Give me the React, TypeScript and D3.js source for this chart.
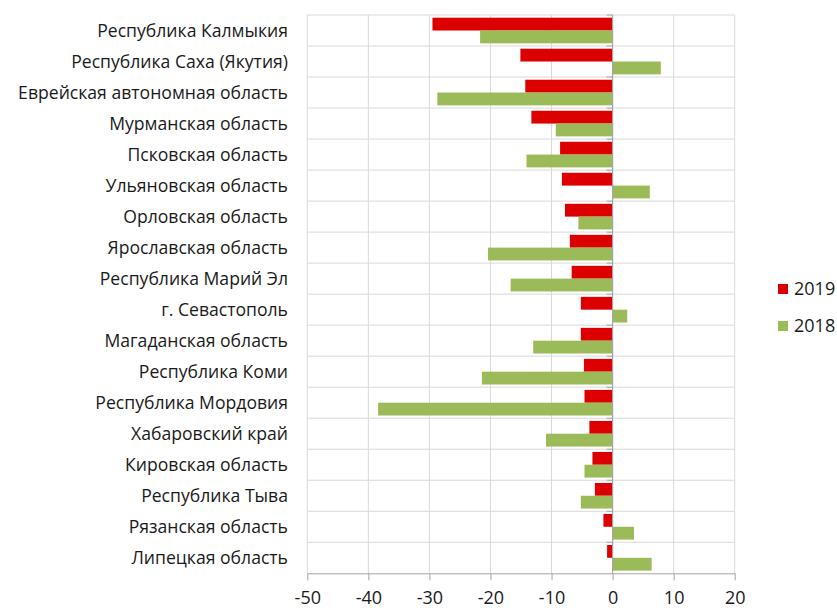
import * as d3 from 'd3'
import { useEffect, useRef } from 'react'

const regions = [
  'Республика Калмыкия',
  'Республика Саха (Якутия)',
  'Еврейская автономная область',
  'Мурманская область',
  'Псковская область',
  'Ульяновская область',
  'Орловская область',
  'Ярославская область',
  'Республика Марий Эл',
  'г. Севастополь',
  'Магаданская область',
  'Республика Коми',
  'Республика Мордовия',
  'Хабаровский край',
  'Кировская область',
  'Республика Тыва',
  'Рязанская область',
  'Липецкая область',
]

const values2019 = [-29.5, -15.1, -14.3, -13.3, -8.6, -8.3, -7.8, -7.0, -6.7, -5.2, -5.2, -4.7, -4.6, -3.8, -3.3, -2.9, -1.5, -0.9]
const values2018 = [-21.7, 7.9, -28.7, -9.3, -14.1, 6.1, -5.6, -20.4, -16.7, 2.4, -13.0, -21.4, -38.4, -10.9, -4.6, -5.2, 3.5, 6.4]

const seriesNames = ['2019', '2018']
const seriesColors = ['#dc0000', '#9bbb59']
const xTicks = [-50, -40, -30, -20, -10, 0, 10, 20]

const W = 837
const H = 608
const FONT = '"Open Sans", "Liberation Sans", sans-serif'

export default function App() {
  const svgRef = useRef(null) as any

  useEffect(() => {
    const svg = d3.select(svgRef.current)
    svg.selectAll('*').remove()

    const left = 307.3
    const right = 734.7
    const top = 15
    const bottom = 573.3

    const x = d3.scaleLinear().domain([-50, 20]).range([left, right])
    const y = d3.scaleBand().domain(regions).range([top, bottom]).paddingInner(0).paddingOuter(0)
    const inner = d3.scaleBand().domain(seriesNames).range([0, y.bandwidth()]).paddingInner(0).paddingOuter(0.21)

    // grid
    const grid = svg.append('g')
    grid.selectAll('line.v')
      .data(xTicks)
      .enter().append('line')
      .attr('x1', d => x(d)).attr('x2', d => x(d))
      .attr('y1', top).attr('y2', bottom)
      .attr('stroke', '#d9d9d9').attr('stroke-width', 1)
    const hLines = regions.map(r => y(r) as number)
    grid.selectAll('line.h')
      .data(hLines)
      .enter().append('line')
      .attr('x1', left).attr('x2', right)
      .attr('y1', d => d).attr('y2', d => d)
      .attr('stroke', '#d9d9d9').attr('stroke-width', 1)

    const rows = regions.map((r, i) => ({ r, vals: [values2019[i], values2018[i]] }))

    const g = svg.append('g')
    rows.forEach(row => {
      row.vals.forEach((v, k) => {
        g.append('rect')
          .attr('x', x(Math.min(0, v)))
          .attr('width', Math.abs(x(v) - x(0)))
          .attr('y', (y(row.r) as number) + (inner(seriesNames[k]) as number))
          .attr('height', inner.bandwidth())
          .attr('fill', seriesColors[k])
      })
    })

    // zero axis with ticks
    svg.append('line')
      .attr('x1', x(0)).attr('x2', x(0))
      .attr('y1', top).attr('y2', bottom)
      .attr('stroke', '#a6a6a6').attr('stroke-width', 1.2)
    svg.append('g').selectAll('line')
      .data(hLines)
      .enter().append('line')
      .attr('x1', x(0) - 6).attr('x2', x(0))
      .attr('y1', d => d).attr('y2', d => d)
      .attr('stroke', '#a6a6a6')

    // bottom axis
    const xAxis = d3.axisBottom(x)
      .tickValues(xTicks)
      .tickFormat(d => String(d))
      .tickSize(7).tickSizeOuter(0).tickPadding(11)
    const ax = svg.append('g')
      .attr('transform', `translate(0,${bottom})`)
      .call(xAxis)
    ax.select('.domain').attr('stroke', '#a6a6a6')
    ax.selectAll('line').attr('stroke', '#a6a6a6')
    ax.selectAll('text')
      .attr('fill', '#1a1a1a')
      .style('font-family', FONT)
      .style('font-size', '18px')

    // category labels
    svg.append('g').selectAll('text')
      .data(regions)
      .enter().append('text')
      .attr('x', 288)
      .attr('y', d => (y(d) as number) + y.bandwidth() / 2)
      .attr('dy', '0.35em')
      .attr('text-anchor', 'end')
      .attr('fill', '#1a1a1a')
      .style('font-family', FONT)
      .style('font-size', '17.6px')
      .text(d => d)

    // legend
    const leg = svg.append('g')
    seriesNames.forEach((s, i) => {
      leg.append('rect')
        .attr('x', 778).attr('y', 284 + i * 37)
        .attr('width', 10).attr('height', 10)
        .attr('fill', seriesColors[i])
      leg.append('text')
        .attr('x', 794).attr('y', 289 + i * 37)
        .attr('dy', '0.36em')
        .attr('fill', '#1a1a1a')
        .style('font-family', FONT)
        .style('font-size', '18px')
        .text(s)
    })
  }, [])

  return (
    <svg
      ref={svgRef}
      width={W}
      height={H}
      style={{ position: 'absolute', left: 0, top: 0, background: '#fff' }}
    />
  )
}
